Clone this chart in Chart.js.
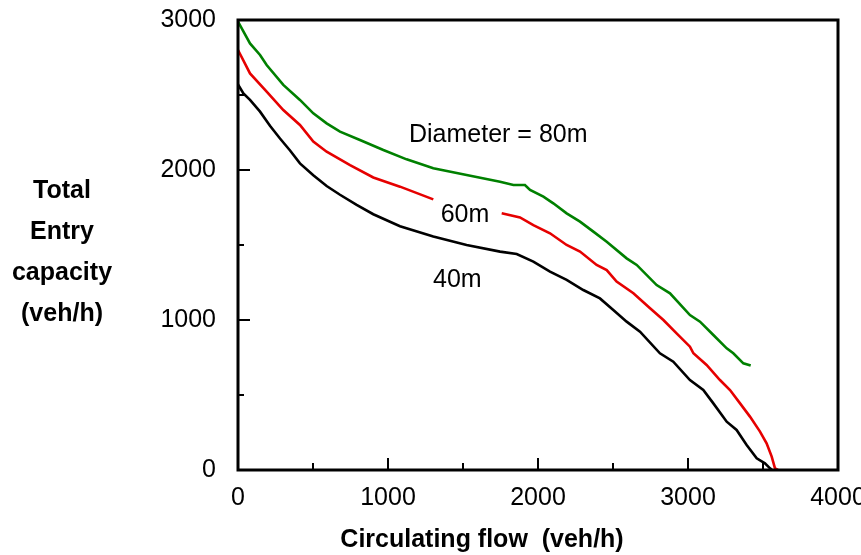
<!DOCTYPE html>
<html>
<head>
<meta charset="utf-8">
<title>Entry capacity vs circulating flow</title>
<script src="https://cdn.jsdelivr.net/npm/chart.js@4.4.1/dist/chart.umd.min.js"></script>
<style>
  html, body { margin: 0; padding: 0; background: #fff; }
  #wrap { width: 861px; height: 555px; position: relative; }
</style>
</head>
<body>
<div id="wrap"><canvas id="capacity"></canvas></div>
<script>
//Circulating flow (veh/h) and total entry capacity (veh/h) for each diameter
const flow80 = [0, 80, 147, 191, 302, 413, 502, 591, 680, 813, 969, 1124, 1302, 1524, 1747, 1836, 1913, 1947, 2036, 2102, 2191, 2280, 2369, 2458, 2591, 2658, 2791, 2880, 3013, 3080, 3169, 3258, 3302, 3369, 3418];
const capacity80 = [2990, 2844, 2767, 2700, 2567, 2467, 2378, 2311, 2256, 2200, 2133, 2071, 2011, 1967, 1922, 1900, 1900, 1867, 1822, 1778, 1711, 1656, 1589, 1522, 1411, 1367, 1233, 1178, 1033, 989, 900, 811, 778, 711, 696];

//60m line has a break where its label sits (null = gap)
const flow60 = [0, 80, 191, 302, 413, 502, 591, 747, 902, 1080, 1302, 1530, 1758, 1880, 1969, 2080, 2191, 2280, 2391, 2458, 2524, 2636, 2747, 2836, 2924, 3013, 3036, 3124, 3213, 3280, 3347, 3413, 3480, 3524, 3558, 3580, 3600];
const capacity60 = [2800, 2644, 2522, 2400, 2300, 2189, 2122, 2033, 1950, 1889, 1804, null, 1711, 1684, 1633, 1578, 1500, 1456, 1367, 1333, 1256, 1178, 1078, 1000, 911, 822, 778, 700, 600, 533, 444, 356, 256, 178, 89, 11, 0];

const flow40 = [0, 36, 80, 147, 213, 280, 347, 413, 502, 591, 680, 791, 902, 1080, 1302, 1524, 1747, 1858, 1969, 2080, 2191, 2302, 2413, 2502, 2591, 2680, 2813, 2902, 3013, 3102, 3169, 3258, 3324, 3391, 3458, 3513, 3547, 3560];
const capacity40 = [2570, 2511, 2467, 2389, 2295, 2210, 2130, 2044, 1965, 1893, 1835, 1767, 1705, 1625, 1556, 1500, 1456, 1440, 1389, 1322, 1267, 1200, 1144, 1067, 989, 922, 778, 722, 600, 533, 444, 322, 267, 167, 78, 44, 11, 0];

//axis ticks
const xTicks = [0, 1000, 2000, 3000, 4000];
const yTicks = [0, 1000, 2000, 3000];

//text placed next to the curves, in data units (left edge, baseline)
const curveLabels = [
  { text: "Diameter = 80m", x: 1140, y: 2187 },
  { text: "60m", x: 1351, y: 1655 },
  { text: "40m", x: 1300, y: 1222 },
];

const yTitleLines = ["Total", "Entry", "capacity", "(veh/h)"];
const xTitle = "Circulating flow  (veh/h)";

const FONT = "'Liberation Sans', Arial, Helvetica, sans-serif";

const toPoints = (xs, ys) => xs.map((x, i) => ({ x: x, y: ys[i] }));

//box round the plot, ticks pointing inwards, titles and curve labels
const framePlugin = {
  id: "frame",
  afterDraw(chart) {
    const ctx = chart.ctx;
    const area = chart.chartArea;
    const xs = chart.scales.x;
    const ys = chart.scales.y;
    ctx.save();
    ctx.strokeStyle = "#000";
    ctx.lineWidth = 3;
    ctx.strokeRect(area.left, area.top, area.right - area.left, area.bottom - area.top);

    ctx.lineWidth = 2;
    ctx.beginPath();
    for (let v = 500; v < 4000; v += 500) {
      const px = xs.getPixelForValue(v);
      const len = v % 1000 === 0 ? 12 : 7;
      ctx.moveTo(px, area.bottom);
      ctx.lineTo(px, area.bottom - len);
    }
    for (let v = 500; v <= 3000; v += 500) {
      const py = ys.getPixelForValue(v);
      const len = v % 1000 === 0 ? 12 : 6;
      ctx.moveTo(area.left, py);
      ctx.lineTo(area.left + len, py);
    }
    ctx.stroke();

    ctx.fillStyle = "#000";
    ctx.textBaseline = "alphabetic";
    ctx.font = "25px " + FONT;
    ctx.textAlign = "left";
    curveLabels.forEach((l) => {
      ctx.fillText(l.text, xs.getPixelForValue(l.x), ys.getPixelForValue(l.y));
    });

    ctx.font = "bold 25px " + FONT;
    ctx.textAlign = "center";
    yTitleLines.forEach((line, i) => {
      ctx.fillText(line, 62, 198 + i * 41);
    });
    ctx.fillText(xTitle, 482, 547);
    ctx.restore();
  },
};

let capacityChart = new Chart(document.getElementById("capacity"), {
  type: "line",
  plugins: [framePlugin],
  data: {
    datasets: [
      {
        label: "80m",
        data: toPoints(flow80, capacity80),
        borderColor: "#008000",
      },
      {
        label: "60m",
        data: toPoints(flow60, capacity60),
        borderColor: "#e60000",
        spanGaps: false,
      },
      {
        label: "40m",
        data: toPoints(flow40, capacity40),
        borderColor: "#000000",
      },
    ],
  },
  options: {
    responsive: true,
    maintainAspectRatio: false,
    animation: false,
    layout: { padding: { left: 0, right: 23, top: 20, bottom: 0 } },
    elements: {
      point: { radius: 0 },
      line: { borderWidth: 2.6, tension: 0, fill: false },
    },
    plugins: {
      legend: { display: false },
      tooltip: { enabled: false },
    },
    scales: {
      x: {
        type: "linear",
        min: 0,
        max: 4000,
        afterBuildTicks: (scale) => {
          scale.ticks = xTicks.map((v) => ({ value: v }));
        },
        afterFit: (scale) => {
          scale.height = 85;
          scale.paddingLeft = 0;
          scale.paddingRight = 0;
        },
        grid: { display: false, drawTicks: false },
        border: { display: false },
        ticks: {
          padding: 13,
          maxRotation: 0,
          color: "#000",
          font: { family: FONT, size: 25 },
          callback: (value) => String(value),
        },
      },
      y: {
        type: "linear",
        min: 0,
        max: 3000,
        afterBuildTicks: (scale) => {
          scale.ticks = yTicks.map((v) => ({ value: v }));
        },
        afterFit: (scale) => {
          scale.width = 238;
          scale.paddingTop = 0;
          scale.paddingBottom = 0;
        },
        grid: { display: false, drawTicks: false },
        border: { display: false },
        ticks: {
          padding: 22,
          color: "#000",
          font: { family: FONT, size: 25 },
          callback: (value) => String(value),
        },
      },
    },
  },
});
</script>
</body>
</html>
